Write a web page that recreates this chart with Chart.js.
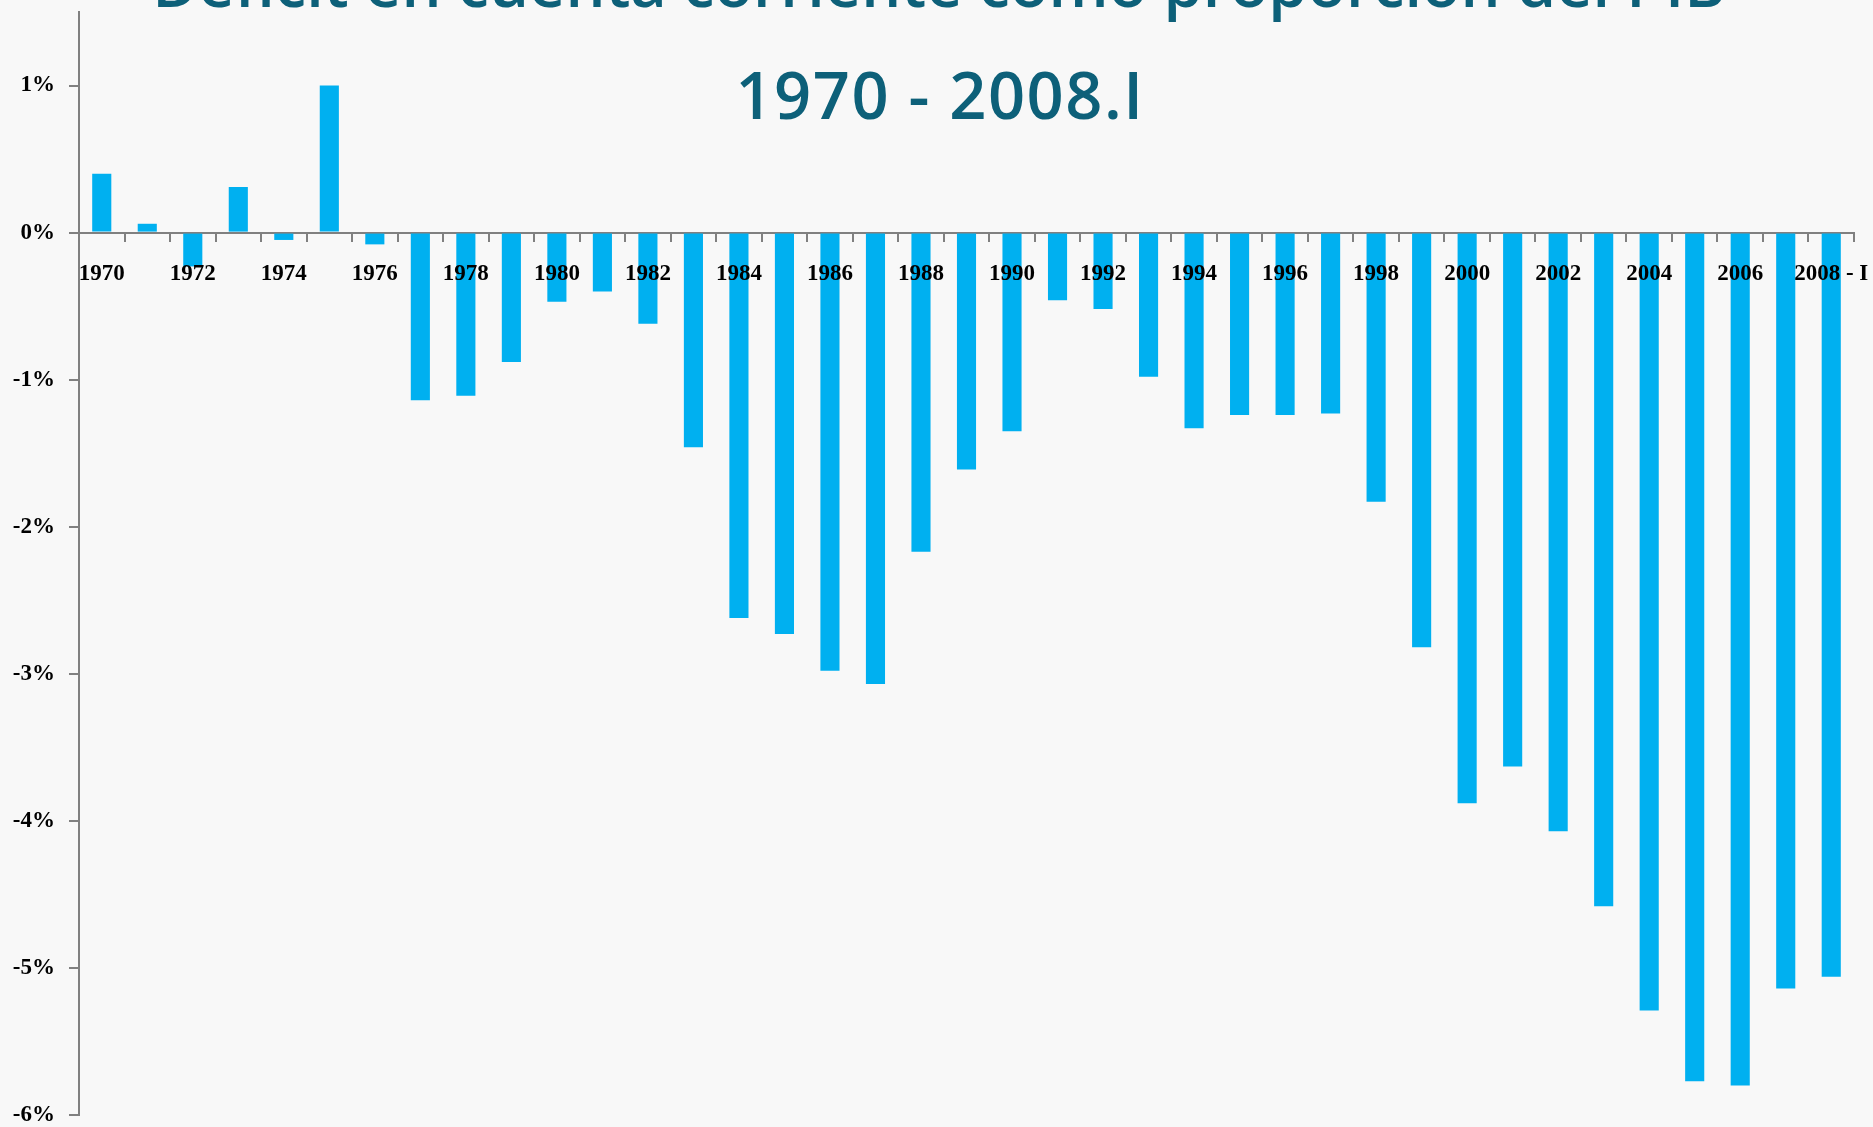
<!DOCTYPE html>
<html>
<head>
<meta charset="utf-8">
<title>Déficit en cuenta corriente como proporción del PIB</title>
<script src="https://cdn.jsdelivr.net/npm/chart.js@4.4.0/dist/chart.umd.min.js"></script>
<style>
    html, body { margin: 0; padding: 0; background: #f8f8f8; }
    #wrap { width: 1873px; height: 1127px; }
</style>
</head>
<body>
<div id="wrap"><canvas id="deficitChart" width="1873" height="1127"></canvas></div>
<script>
// data (% of GDP)
var years = ['1970', '1971', '1972', '1973', '1974', '1975', '1976', '1977', '1978', '1979',
    '1980', '1981', '1982', '1983', '1984', '1985', '1986', '1987', '1988', '1989',
    '1990', '1991', '1992', '1993', '1994', '1995', '1996', '1997', '1998', '1999',
    '2000', '2001', '2002', '2003', '2004', '2005', '2006', '2007', '2008 - I'];
var deficit = [0.40, 0.06, -0.23, 0.31, -0.05, 1.00, -0.08, -1.14, -1.11, -0.88,
    -0.47, -0.40, -0.62, -1.46, -2.62, -2.73, -2.98, -3.07, -2.17, -1.61,
    -1.35, -0.46, -0.52, -0.98, -1.33, -1.24, -1.24, -1.23, -1.83, -2.82,
    -3.88, -3.63, -4.07, -4.58, -5.29, -5.77, -5.80, -5.14, -5.06];
var yTicks = [-6, -5, -4, -3, -2, -1, 0, 1];
var titleLines = ['Déficit en cuenta corriente como proporción del PIB', '1970 - 2008.I'];

var labelFont = { family: '"Liberation Serif", serif', weight: 'bold', size: 23 };
var axisGray = '#808080';

// the title sits over the plot area, so draw it on top instead of using a layout box
var overlayTitle = {
    id: 'overlayTitle',
    afterDraw: function(chart) {
        var ctx = chart.ctx;
        ctx.save();
        ctx.fillStyle = '#0d6079';
        ctx.textAlign = 'center';
        ctx.textBaseline = 'alphabetic';
        ctx.font = '600 63px "Open Sans"';
        ctx.fillText(titleLines[0], 939, 7);
        ctx.font = '600 65px "Open Sans"';
        ctx.letterSpacing = '1.5px';
        ctx.fillText(titleLines[1], 940, 119);
        ctx.restore();
    }
};

// labels may overhang the plot edges, like in the original
function noEdgePadding(scale) {
    scale.paddingTop = 0;
    scale.paddingBottom = 0;
    scale.paddingLeft = 0;
    scale.paddingRight = 0;
}

var ctx = document.getElementById('deficitChart').getContext('2d');
var chart = new Chart(ctx, {
    type: 'bar',
    data: {
        labels: years,
        datasets: [{
            label: 'Déficit en cuenta corriente',
            data: deficit,
            backgroundColor: '#00b0f0',
            borderWidth: 0,
            barPercentage: 0.42,
            categoryPercentage: 1.0
        }]
    },
    options: {
        responsive: false,
        animation: false,
        layout: { padding: { left: 0, right: 19, top: 12, bottom: 12 } },
        plugins: {
            legend: { display: false },
            tooltip: { enabled: false }
        },
        scales: {
            x: {
                position: { y: 0 },
                offset: true,
                afterFit: noEdgePadding,
                grid: { offset: true, drawOnChartArea: false, drawTicks: true, tickLength: 8, color: axisGray, lineWidth: 2 },
                border: { color: axisGray, width: 2 },
                ticks: {
                    autoSkip: false,
                    maxRotation: 0,
                    minRotation: 0,
                    padding: 20,
                    z: 1,
                    color: '#000',
                    font: labelFont,
                    callback: function(value, index) {
                        return index % 2 === 0 ? years[index] : '';
                    }
                }
            },
            y: {
                min: -6,
                max: 1.5,
                afterBuildTicks: function(scale) {
                    scale.ticks = yTicks.map(function(v) { return { value: v }; });
                },
                afterFit: function(scale) {
                    scale.width = 79;
                    noEdgePadding(scale);
                },
                grid: { drawOnChartArea: false, tickLength: 10, color: axisGray, lineWidth: 2 },
                border: { color: axisGray, width: 2 },
                ticks: {
                    padding: 14,
                    color: '#000',
                    font: labelFont,
                    callback: function(value) {
                        return value + '%';
                    }
                }
            }
        }
    },
    plugins: [overlayTitle]
});
</script>
</body>
</html>
